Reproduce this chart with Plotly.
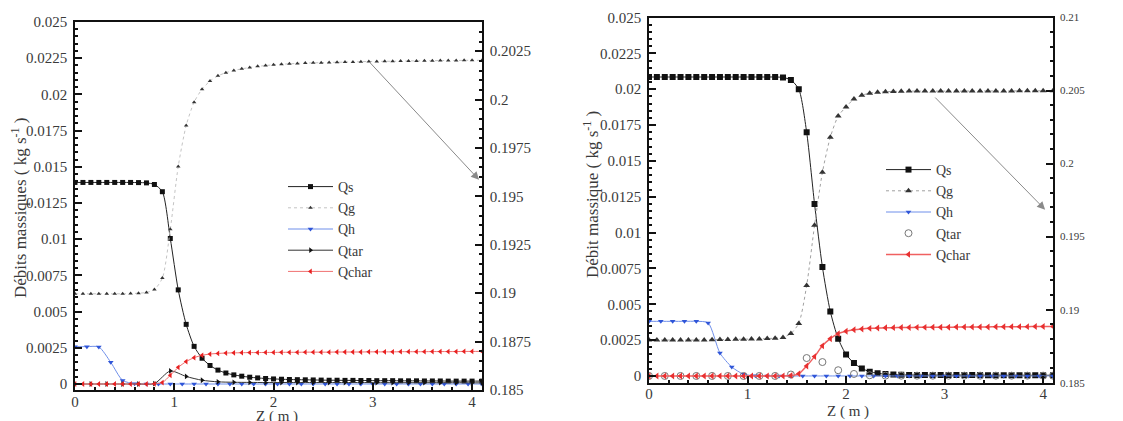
import plotly.graph_objects as go

# ---------------- data ----------------
z_s = [0.00, 0.08, 0.16, 0.24, 0.32, 0.40, 0.48, 0.56, 0.64, 0.72, 0.80, 0.88, 0.96, 1.04, 1.12,
       1.20, 1.28, 1.36, 1.44, 1.52, 1.60, 1.68, 1.76, 1.84, 1.92, 2.00, 2.08, 2.16, 2.24, 2.32,
       2.40, 2.48, 2.56, 2.64, 2.72, 2.80, 2.88, 2.96, 3.04, 3.12, 3.20, 3.28, 3.36, 3.44, 3.52,
       3.60, 3.68, 3.76, 3.84, 3.92, 4.00, 4.10]
z_h = [0.00, 0.12, 0.24, 0.36, 0.48, 0.60, 0.72, 0.84, 0.96, 1.08, 1.20, 1.32, 1.44, 1.56, 1.68,
       1.80, 1.92, 2.04, 2.16, 2.28, 2.40, 2.52, 2.64, 2.76, 2.88, 3.00, 3.12, 3.24, 3.36, 3.48,
       3.60, 3.72, 3.84, 3.96, 4.10]
z_t = [0.00, 0.16, 0.32, 0.48, 0.64, 0.80, 0.96, 1.12, 1.28, 1.44, 1.60, 1.76, 1.92, 2.08, 2.24,
       2.40, 2.56, 2.72, 2.88, 3.04, 3.20, 3.36, 3.52, 3.68, 3.84, 4.00, 4.10]

# left panel
qs_1 = [0.01392, 0.01392, 0.01392, 0.01392, 0.01392, 0.01392, 0.01392, 0.01392, 0.01391, 0.01389,
        0.01378, 0.01328, 0.01005, 0.0065, 0.00412, 0.0026, 0.00178, 0.00128, 0.00096, 0.00076,
        0.00063, 0.00054, 0.00047, 0.00042, 0.00038, 0.00035, 0.00033, 0.00031, 0.0003, 0.00029,
        0.00028, 0.00027, 0.00026, 0.00026, 0.00025, 0.00025, 0.00024, 0.00024, 0.00023, 0.00023,
        0.00023, 0.00022, 0.00022, 0.00022, 0.00021, 0.00021, 0.00021, 0.0002, 0.0002, 0.0002,
        0.0002, 0.0002]
qg_1 = [0.18997, 0.18997, 0.18997, 0.18997, 0.18997, 0.18997, 0.18997, 0.18998, 0.19, 0.19004,
        0.19019, 0.19078, 0.1933, 0.19655, 0.19866, 0.19987, 0.20054, 0.20096, 0.20123, 0.20139,
        0.20151, 0.20159, 0.20166, 0.20172, 0.20176, 0.2018, 0.20183, 0.20185, 0.20187, 0.20189,
        0.2019, 0.20191, 0.20192, 0.20193, 0.20194, 0.20195, 0.20196, 0.20197, 0.20197, 0.20198,
        0.20198, 0.20199, 0.202, 0.202, 0.20201, 0.20201, 0.20202, 0.20202, 0.20202, 0.20203,
        0.20203, 0.20203]
qh_1 = [0.00258, 0.00258, 0.00256, 0.0015, 0.00025, 0.00002, 0, 0, 0, 0, 0, 0, 0, 0, 0, 0, 0, 0,
        0, 0, 0, 0, 0, 0, 0, 0, 0, 0, 0, 0, 0, 0, 0, 0, 0]
qtar_1 = [0, 0, 0, 0, 0, 0.00003, 0.0009, 0.00052, 0.00026, 0.00015, 0.00012, 0.00011, 0.0001,
          0.0001, 0.0001, 0.0001, 0.0001, 0.0001, 0.0001, 0.00009, 0.00009, 0.00009, 0.00009,
          0.00009, 0.00009, 0.00008, 0.00008]
qchar_1 = [0, 0, 0, 0, 0, 0, 0, 0, 0, 0, 0.00001, 0.0001, 0.0006, 0.00115, 0.00155, 0.00182,
           0.00198, 0.00207, 0.00211, 0.00214, 0.00215, 0.00216, 0.00217, 0.00217, 0.00218,
           0.00218, 0.00219, 0.00219, 0.00219, 0.0022, 0.0022, 0.0022, 0.0022, 0.00221, 0.00221,
           0.00221, 0.00221, 0.00222, 0.00222, 0.00222, 0.00222, 0.00223, 0.00223, 0.00223,
           0.00223, 0.00224, 0.00224, 0.00224, 0.00224, 0.00225, 0.00225, 0.00225]

# right panel
qs_2 = [0.02085, 0.02085, 0.02085, 0.02085, 0.02085, 0.02085, 0.02085, 0.02085, 0.02085, 0.02085,
        0.02085, 0.02085, 0.02085, 0.02085, 0.02085, 0.02085, 0.02085, 0.02082, 0.02064, 0.02,
        0.017, 0.012, 0.0076, 0.0045, 0.0026, 0.0015, 0.0009, 0.00052, 0.0003, 0.00019, 0.00013,
        0.0001, 0.00008, 0.00007, 0.00006, 0.00006, 0.00006, 0.00006, 0.00006, 0.00006, 0.00006,
        0.00006, 0.00006, 0.00005, 0.00005, 0.00005, 0.00005, 0.00005, 0.00005, 0.00005, 0.00005,
        0.00005]
qg_2 = [0.18792, 0.18792, 0.18792, 0.18792, 0.18792, 0.18792, 0.18792, 0.18793, 0.18794, 0.18795,
        0.18796, 0.18797, 0.18798, 0.18799, 0.188, 0.18802, 0.18805, 0.1881, 0.18837, 0.18906,
        0.19165, 0.19577, 0.1994, 0.2018, 0.20325, 0.20388, 0.20442, 0.20468, 0.20482, 0.20489,
        0.20492, 0.20494, 0.20495, 0.20496, 0.20496, 0.20496, 0.20496, 0.20496, 0.20496, 0.20496,
        0.20496, 0.20497, 0.20497, 0.20497, 0.20497, 0.20497, 0.20497, 0.20498, 0.20498, 0.20498,
        0.20498, 0.20498]
qh_2 = [0.00381, 0.00381, 0.00381, 0.00381, 0.00381, 0.0037, 0.0016, 0.00063, 0.00012, 0.00002,
        0, 0, 0, 0, 0, 0, 0, 0, 0, 0, 0, 0, 0, 0, 0, 0, 0, 0, 0, 0, 0, 0, 0, 0, 0]
qtar_2 = [0, 0, 0, 0, 0, 0, 0, 0, 0, 0.0001, 0.00125, 0.00097, 0.0004, 0.00014, 0.00005, 0.00002,
          0.00002, 0.00002, 0.00002, 0.00002, 0.00002, 0.00002, 0.00002, 0.00002, 0.00002,
          0.00002, 0.00002]
qchar_2 = [0, 0, 0, 0, 0, 0, 0, 0, 0, 0, 0, 0, 0, 0, 0, 0, 0, 0, 0.00003, 0.00015, 0.0007,
           0.00135, 0.0021, 0.0026, 0.00295, 0.00312, 0.00322, 0.00328, 0.00332, 0.00334, 0.00336,
           0.00337, 0.00338, 0.00338, 0.00339, 0.00339, 0.0034, 0.0034, 0.0034, 0.00341, 0.00341,
           0.00342, 0.00342, 0.00342, 0.00343, 0.00343, 0.00344, 0.00344, 0.00344, 0.00345,
           0.00345, 0.00345]

# ---------------- figure ----------------
SERIF = "Liberation Serif"
TXT = "#3a3a3a"
fig = go.Figure()

def add(x, y, name, xa, ya, leg, color, lcolor, symbol, size, dash="solid", mode="lines+markers",
        lw=1, showlegend=True):
    fig.add_trace(go.Scatter(
        x=x, y=y, name=name, xaxis=xa, yaxis=ya, legend=leg, mode=mode,
        line=dict(color=lcolor, width=lw, dash=dash, shape="spline", smoothing=0.7),
        marker=dict(symbol=symbol, size=size, color=color,
                    line=dict(width=1 if "open" in symbol else 0, color=color)),
        showlegend=showlegend))

# left panel traces
add(z_s, qs_1, "Qs", "x", "y", "legend", "#111111", "#222222", "square", 5)
add(z_s, qg_1, "Qg", "x", "y2", "legend", "#333333", "#c4c4c4", "triangle-up", 4, dash="dot")
add(z_h, qh_1, "Qh", "x", "y", "legend", "#2f55d8", "#6f8fea", "triangle-down", 5)
add(z_t, qtar_1, "Qtar", "x", "y", "legend", "#111111", "#333333", "triangle-right", 5)
add(z_s, qchar_1, "Qchar", "x", "y", "legend", "#e82020", "#f07070", "triangle-left", 5)

# right panel traces
add(z_s, qs_2, "Qs", "x2", "y3", "legend2", "#111111", "#222222", "square", 6)
add(z_s, qg_2, "Qg", "x2", "y4", "legend2", "#333333", "#a0a0a0", "triangle-up", 6, dash="dot")
add(z_h, qh_2, "Qh", "x2", "y3", "legend2", "#2f55d8", "#6f8fea", "triangle-down", 5)
add(z_t, qtar_2, "Qtar", "x2", "y3", "legend2", "#777777", "#777777", "circle-open", 7,
    mode="markers")
add(z_s, qchar_2, "Qchar", "x2", "y3", "legend2", "#e83030", "#f06060", "triangle-left", 6, lw=1.5)

# the page body has an 8 px margin: the figure starts at (8, 8) in the window
OFF = 8
W, H = 1123 - OFF, 421 - OFF

def px_x(p):
    return (p - OFF) / W

def px_y(p):
    return 1 - (p - OFF) / H

tickfont = dict(family=SERIF, size=15, color=TXT)
axis_common = dict(showline=True, linecolor="#111111", linewidth=1.5, ticks="inside",
                   tickcolor="#111111", tickwidth=1.5, showgrid=False, zeroline=False,
                   tickfont=tickfont, exponentformat="none")
minor_x = dict(ticks="inside", dtick=0.2, ticklen=3, tickcolor="#111111")

fig.update_layout(
    width=W, height=H, margin=dict(l=0, r=0, t=0, b=0, autoexpand=False),
    paper_bgcolor="white", plot_bgcolor="white",
    xaxis=dict(axis_common, domain=[px_x(75), px_x(482)], range=[0, 4.1], dtick=1, tick0=0,
               ticklen=7, minor=minor_x, mirror=True, anchor="y", ticklabelstandoff=-3),
    yaxis=dict(axis_common, domain=[px_y(390), px_y(22)], range=[-0.000414, 0.025], dtick=0.0025,
               tick0=0, ticklen=7, ticklabelstandoff=3,
               minor=dict(ticks="inside", dtick=0.0005, ticklen=3, tickcolor="#111111"),
               anchor="x"),
    yaxis2=dict(axis_common, overlaying="y", side="right", anchor="x", range=[0.185, 0.20401],
                dtick=0.0025, tick0=0.185, ticklen=7, ticklabelstandoff=3,
                minor=dict(ticks="inside", dtick=0.0005, ticklen=3, tickcolor="#111111")),
    xaxis2=dict(axis_common, domain=[px_x(649), px_x(1053)], range=[0, 4.1], dtick=1, tick0=0,
                ticklen=7, minor=minor_x, mirror=True, anchor="y3", ticklabelstandoff=-3),
    yaxis3=dict(axis_common, domain=[px_y(382.7), px_y(17.5)], range=[-0.00047, 0.025],
                dtick=0.0025, tick0=0, ticklen=7, ticklabelstandoff=3,
                minor=dict(ticks="inside", dtick=0.0005, ticklen=3, tickcolor="#111111"),
                anchor="x2"),
    yaxis4=dict(axis_common, overlaying="y3", side="right", anchor="x2", range=[0.185, 0.21],
                dtick=0.005, tick0=0.185, ticklen=7, ticklabelstandoff=3,
                tickfont=dict(family=SERIF, size=11, color=TXT),
                minor=dict(ticks="inside", dtick=0.001, ticklen=3, tickcolor="#111111")),
    legend=dict(x=px_x(283), y=px_y(171), xanchor="left", yanchor="top",
                bgcolor="rgba(0,0,0,0)", font=dict(family=SERIF, size=14, color=TXT),
                itemwidth=45, tracegroupgap=0),
    legend2=dict(x=px_x(881), y=px_y(154), xanchor="left", yanchor="top",
                 bgcolor="rgba(0,0,0,0)", font=dict(family=SERIF, size=14, color=TXT),
                 itemwidth=45, tracegroupgap=0),
)

title_font = dict(family=SERIF, size=17, color=TXT)
annotations = [
    dict(text="Débits massiques ( kg s<sup>-1</sup> )", x=px_x(19), y=px_y(208), xref="paper",
         yref="paper", textangle=-90, showarrow=False, font=title_font,
         xanchor="center", yanchor="middle"),
    dict(text="Débit massique ( kg s<sup>-1</sup> )", x=px_x(591), y=px_y(195), xref="paper",
         yref="paper", textangle=-90, showarrow=False, font=title_font,
         xanchor="center", yanchor="middle"),
    dict(text="Z ( m )", x=px_x(277), y=px_y(416), xref="paper", yref="paper",
         showarrow=False, font=dict(family=SERIF, size=15, color=TXT),
         xanchor="center", yanchor="middle"),
    dict(text="Z ( m )", x=px_x(848), y=px_y(411), xref="paper", yref="paper",
         showarrow=False, font=dict(family=SERIF, size=15, color=TXT),
         xanchor="center", yanchor="middle"),
    dict(x=4.07, y=0.0141, xref="x", yref="y", ax=2.96, ay=0.02228, axref="x", ayref="y",
         text="", showarrow=True, arrowhead=2, arrowsize=1.6, arrowwidth=1,
         arrowcolor="#8a8a8a"),
    dict(x=4.02, y=0.0116, xref="x2", yref="y3", ax=2.89, ay=0.01952, axref="x2", ayref="y3",
         text="", showarrow=True, arrowhead=2, arrowsize=1.6, arrowwidth=1,
         arrowcolor="#8a8a8a"),
]
fig.update_layout(annotations=annotations)

fig.write_html("out.html")
